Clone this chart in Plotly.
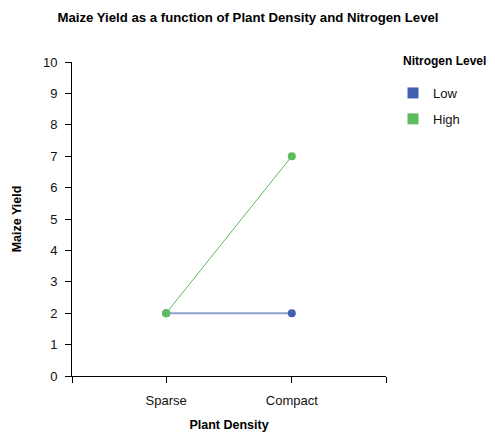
import plotly.graph_objects as go

densities = ["Sparse", "Compact"]
nitrogen_levels = ["Low", "High"]
yield_low = [2, 2]
yield_high = [2, 7]
colors = {"Low": "#4160b0", "High": "#5cbd5c"}
line_colors = {"Low": "rgba(65,96,176,0.6)", "High": "#5cbd5c"}

x_pos = list(range(len(densities)))
series = {"Low": yield_low, "High": yield_high}

fig = go.Figure()

for level in nitrogen_levels:
    fig.add_trace(go.Scatter(
        x=x_pos, y=series[level], mode="lines+markers",
        line=dict(color=line_colors[level], width=2 if level == "Low" else 1),
        marker=dict(size=8, color=colors[level]),
        showlegend=False, hoverinfo="skip"
    ))

# legend swatches
for level in nitrogen_levels:
    fig.add_trace(go.Scatter(
        x=[None], y=[None], mode="markers", name=level,
        legendgroup=level,
        marker=dict(symbol="square", size=11, color=colors[level])
    ))

font = "Liberation Sans, Arial, Helvetica, sans-serif"

# page body has an 8px margin, so positions are shifted back by 8px
fig.update_layout(
    width=495, height=432,
    margin=dict(l=64, r=117, t=54, b=64),
    plot_bgcolor="white", paper_bgcolor="white",
    font=dict(family=font, size=13, color="#111"),
    title=dict(text="<b>Maize Yield as a function of Plant Density and Nitrogen Level</b>",
               x=240 / 495, xref="container", xanchor="center",
               y=1 - 9 / 432, yref="container", yanchor="middle",
               font=dict(size=13.2, color="#000")),
    xaxis=dict(
        range=[-0.75, 1.75],
        tickvals=[-0.75] + x_pos + [1.75],
        ticktext=[""] + densities + [""],
        showgrid=False, zeroline=False, automargin=False,
        showline=True, linecolor="#000", linewidth=1,
        ticks="outside", ticklen=6, tickcolor="#000",
        tickfont=dict(size=13), ticklabelstandoff=6,
        title=dict(text="<b>Plant Density</b>", standoff=13,
                   font=dict(size=12.5, color="#000")),
    ),
    yaxis=dict(
        range=[0, 10], dtick=1,
        showgrid=False, zeroline=False, automargin=False,
        showline=True, linecolor="#000", linewidth=1,
        ticks="outside", ticklen=6, tickcolor="#000",
        tickfont=dict(size=13), ticklabelstandoff=5,
        title=dict(text="<b>Maize Yield</b>", standoff=18,
                   font=dict(size=12.5, color="#000")),
    ),
    legend=dict(
        xref="container", x=385 / 495, xanchor="left",
        yref="container", y=1 - 70 / 432, yanchor="top",
        tracegroupgap=6, font=dict(size=13),
        bgcolor="rgba(0,0,0,0)",
    ),
    annotations=[dict(
        text="<b>Nitrogen Level</b>", xref="paper", yref="paper",
        x=(401 - 72) / 314, y=1 + 1 / 314, xanchor="left", yanchor="middle",
        showarrow=False, font=dict(size=12, color="#000"),
    )],
)

fig.write_html("out.html")
